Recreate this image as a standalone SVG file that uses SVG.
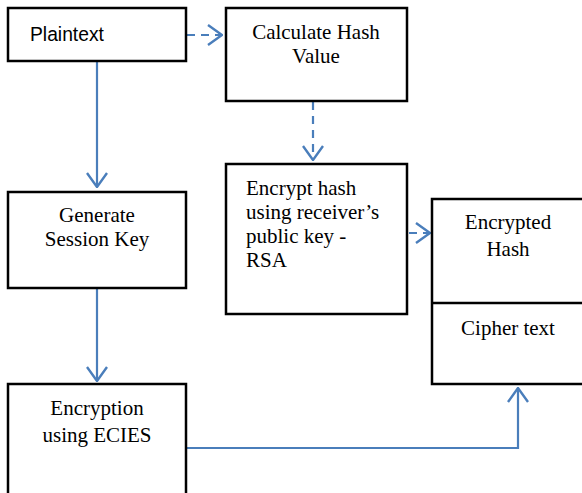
<svg xmlns="http://www.w3.org/2000/svg" width="582" height="493" viewBox="0 0 582 493">
<defs>
<style>
.box{fill:#fff;stroke:#000;stroke-width:2.5}
.t{font-family:"Liberation Serif","Times New Roman",serif;font-size:21px;fill:#000}
.c{text-anchor:middle}
.s{font-family:"Liberation Sans",Arial,sans-serif;font-size:19.3px;fill:#000}
.ln{fill:none;stroke:#4a7ebb;stroke-width:2.2}
.d{stroke-dasharray:8,6}
</style>
<marker id="ah" viewBox="0 0 16 22" refX="15" refY="11" markerWidth="16" markerHeight="22" markerUnits="userSpaceOnUse" orient="auto">
<path d="M1,1 L15,11 L1,21" fill="none" stroke="#4a7ebb" stroke-width="2.4"/>
</marker>
</defs>
<rect width="582" height="493" fill="#fff"/>
<g id="connectors">
<path class="ln d" d="M187,35 H222" marker-end="url(#ah)"/>
<path class="ln d" d="M313,102 V160" marker-end="url(#ah)"/>
<path class="ln d" d="M409,233 H430" marker-end="url(#ah)"/>
<path class="ln" d="M97,62 V187" marker-end="url(#ah)"/>
<path class="ln" d="M97,289 V381" marker-end="url(#ah)"/>
<path class="ln" d="M187,448 H518 V388" marker-end="url(#ah)"/>
</g>
<g id="plaintext">
<rect class="box" x="8" y="8" width="178" height="53"/>
<text class="s" x="30" y="41">Plaintext</text>
</g>
<g id="hash">
<rect class="box" x="226" y="8" width="181" height="93"/>
<text class="t c" x="316" y="39">Calculate Hash</text>
<text class="t c" x="316" y="63">Value</text>
</g>
<g id="encrypt-hash">
<rect class="box" x="226" y="164" width="181" height="150"/>
<text class="t" x="246" y="195">Encrypt hash</text>
<text class="t" x="246" y="219">using receiver’s</text>
<text class="t" x="246" y="243">public key -</text>
<text class="t" x="246" y="267">RSA</text>
</g>
<g id="session-key">
<rect class="box" x="8" y="192" width="178" height="96"/>
<text class="t c" x="97" y="222">Generate</text>
<text class="t c" x="97" y="246">Session Key</text>
</g>
<g id="output">
<rect class="box" x="432" y="199" width="160" height="185"/>
<line x1="432" y1="303" x2="592" y2="303" stroke="#000" stroke-width="2.5"/>
<text class="t c" x="508" y="229">Encrypted</text>
<text class="t c" x="508" y="256">Hash</text>
<text class="t c" x="508" y="335">Cipher text</text>
</g>
<g id="ecies">
<rect class="box" x="8" y="384" width="178" height="120"/>
<text class="t c" x="97" y="415">Encryption</text>
<text class="t c" x="97" y="442">using ECIES</text>
</g>
</svg>
